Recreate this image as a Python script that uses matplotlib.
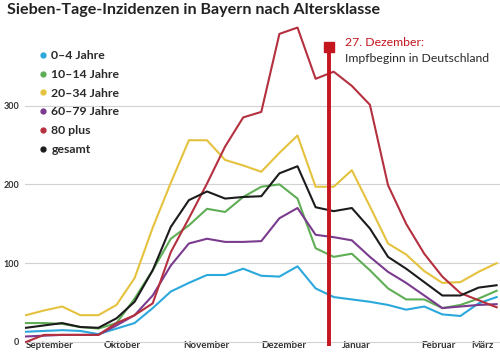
"""Sieben-Tage-Inzidenzen in Bayern nach Altersklasse (Sep 2020 - Maerz 2021)."""

import matplotlib

matplotlib.use("Agg")
import matplotlib.pyplot as plt
import pandas as pd
from matplotlib.lines import Line2D

plt.rcParams["font.family"] = ["Lato", "DejaVu Sans"]

# Wochenwerte ab 1. September 2020
wochen = pd.date_range("2020-09-01", periods=27, freq="7D")

inz_0_4 = [13, 14, 15, 14, 10, 17, 24, 43, 64, 75, 85, 85, 93, 84, 83, 96,
           68, 57, 54, 51, 47, 41, 45, 35, 33, 49, 57]
inz_10_14 = [24, 24, 23, 19, 17, 24, 55, 91, 131, 148, 169, 165, 184, 197, 200, 182,
             119, 108, 112, 91, 68, 54, 54, 43, 47, 55, 65]
inz_20_34 = [34, 40, 45, 34, 34, 47, 81, 145, 202, 256, 256, 231, 224, 216, 240, 262,
             197, 197, 218, 172, 125, 111, 90, 75, 76, 89, 100]
inz_60_79 = [7, 8, 9, 9, 9, 21, 34, 59, 97, 125, 131, 127, 127, 128, 157, 170,
             136, 133, 129, 108, 89, 75, 59, 43, 45, 47, 48]
inz_80_plus = [0, 9, 9, 9, 9, 24, 34, 49, 114, 157, 201, 248, 285, 292, 391, 399,
               334, 343, 325, 301, 199, 150, 112, 83, 62, 53, 44]
inz_gesamt = [18, 21, 24, 19, 18, 30, 51, 91, 146, 180, 191, 182, 184, 185, 214, 223,
              171, 166, 170, 144, 108, 93, 76, 59, 59, 69, 72]

serien = [
    ("0–4 Jahre", inz_0_4, "#2ba8dc"),
    ("10–14 Jahre", inz_10_14, "#5fae55"),
    ("20–34 Jahre", inz_20_34, "#e5c23e"),
    ("60–79 Jahre", inz_60_79, "#7a3b8f"),
    ("80 plus", inz_80_plus, "#b5303f"),
    ("gesamt", inz_gesamt, "#1c1c1c"),
]

monate = ["September", "Oktober", "November", "Dezember", "Januar", "Februar", "März"]
monat_start = pd.date_range("2020-09-01", periods=7, freq="MS")
y_ticks = [0, 100, 200, 300]

impfbeginn = pd.Timestamp("2020-12-27")
impf_marke = 374
rot = "#c3161f"

fig = plt.figure(figsize=(5, 3.54), dpi=100)
ax = fig.add_axes([0.05, 8 / 354, 0.95, 326 / 354])

for label, werte, farbe in serien:
    ax.plot(wochen, werte, color=farbe, linewidth=1.5, label=label)

ax.vlines(impfbeginn, -5.1, impf_marke, color=rot, linewidth=2.8, zorder=5)
ax.plot([impfbeginn], [impf_marke], marker="s", markersize=7.5, color=rot, zorder=6)
ax.annotate("27. Dezember:", xy=(impfbeginn, impf_marke), xytext=(12, 3.5),
            textcoords="offset points", color=rot, fontsize=8.8, va="center")
ax.annotate("Impfbeginn in Deutschland", xy=(impfbeginn, impf_marke), xytext=(12, -8),
            textcoords="offset points", color="#2a2a2a", fontsize=8.8, va="center")

ax.set_xlim(wochen[0] - pd.Timedelta(hours=9), wochen[0] + pd.Timedelta(days=183.3))
ax.set_ylim(-5.1, 408.6)

ax.set_yticks(y_ticks)
ax.yaxis.grid(True, color="#d2d2d2", linewidth=0.8)
ax.set_axisbelow(True)
ax.tick_params(axis="y", length=0, pad=4, labelsize=6.5, labelcolor="#333333")
for t in ax.get_yticklabels():
    t.set_fontweight("bold")

ax.set_xticks(monat_start)
ax.set_xticklabels(monate, ha="left", fontsize=7, fontweight="bold", color="#333333")
ax.get_xticklabels()[-1].set_horizontalalignment("right")  # Maerz am rechten Rand
ax.tick_params(axis="x", length=0, pad=-3.5)

for spine in ax.spines.values():
    spine.set_visible(False)

handles = [Line2D([], [], marker="o", linestyle="", color=farbe, markersize=3.5)
           for _, _, farbe in serien]
fig.legend(handles, [s[0] for s in serien], loc="upper left",
           bbox_to_anchor=(38 / 500, 1 - 50 / 354), frameon=False, borderpad=0,
           borderaxespad=0, handletextpad=0.3, handlelength=0.8, labelspacing=0.64,
           prop={"weight": "bold", "size": 8.8}, labelcolor="#2a2a2a")

fig.text(7 / 500, 1 - 10 / 354, "Sieben-Tage-Inzidenzen in Bayern nach Altersklasse",
         fontsize=11.6, fontweight="bold", va="center", ha="left", color="#222222")

fig.savefig("out.png", dpi=100)
